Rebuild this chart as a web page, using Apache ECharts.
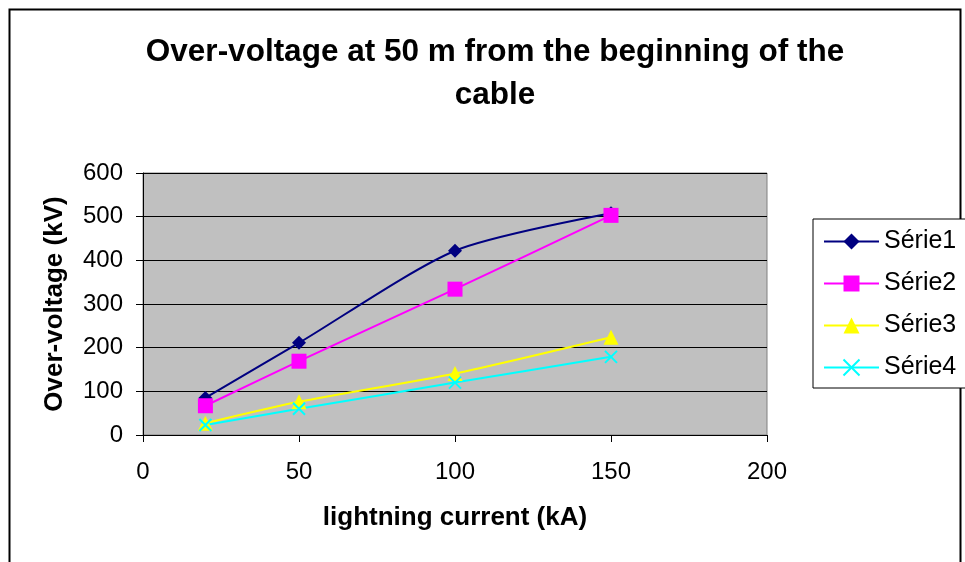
<!DOCTYPE html>
<html><head><meta charset="utf-8">
<script src="https://cdn.jsdelivr.net/npm/echarts@6/dist/echarts.min.js"></script>
<style>html,body{margin:0;padding:0;background:#fff}#c{width:965px;height:562px}</style>
</head><body><div id="c"></div>
<script>
const xValues = [20, 50, 100, 150];
const serie1 = [85, 211, 422, 508];
const serie2 = [67, 169, 334, 503];
const serie3 = [27, 76, 141, 224];
const serie4 = [23, 60, 120, 179];
const seriesNames = ['Série1', 'Série2', 'Série3', 'Série4'];
const titleText = 'Over-voltage at 50 m from the beginning of the\ncable';
const xName = 'lightning current (kA)';
const yName = 'Over-voltage (kV)';

const font = 'Liberation Sans, Arial, sans-serif';
const chart = echarts.init(document.getElementById('c'));
function pts(v){ return xValues.map((x,i)=>[x, v[i]]); }
const colors = ['#000080', '#FF00FF', '#FFFF00', '#00FFFF'];
const symbols = ['diamond', 'rect', 'triangle', 'path://M0,0L10,10M10,0L0,10'];
const sizes = [14, 15, 15, 12];
const data = [serie1, serie2, serie3, serie4];
chart.setOption({
  animation: false,
  textStyle: {fontFamily: font},
  graphic: [{type:'rect', shape:{x:9.5, y:9.5, width:951, height:570}, style:{fill:'none', stroke:'#000', lineWidth:2}, z:-10}],
  title: {text: titleText, left: 490, top: 26, textAlign: 'center',
    textStyle: {fontFamily: font, fontSize: 31.5, fontWeight: 'bold', color: '#000', lineHeight: 43}},
  legend: {orient: 'vertical', left: 813, top: 219, width: 151,
    padding: [10, 12, 8, 10], itemGap: 17, itemWidth: 55, itemHeight: 20,
    borderColor: '#000', borderWidth: 1, backgroundColor: '#fff',
    textStyle: {fontFamily: font, fontSize: 25, color: '#000'},
    data: seriesNames},
  grid: {left: 143, top: 173, width: 624, height: 262, show: true, backgroundColor: '#C0C0C0', borderColor: '#808080', borderWidth: 1},
  xAxis: {type: 'value', min: 0, max: 200, interval: 50,
    name: xName, nameLocation: 'middle', nameGap: 70,
    nameTextStyle: {fontFamily: font, fontSize: 26, fontWeight: 'bold', color: '#000'},
    axisLine: {onZero: false, lineStyle: {color: '#000'}},
    axisTick: {show: true, length: 7, lineStyle: {color: '#000'}},
    axisLabel: {fontFamily: font, fontSize: 24, color: '#000', margin: 25},
    splitLine: {show: false}},
  yAxis: {type: 'value', min: 0, max: 600, interval: 100,
    name: yName, nameLocation: 'middle', nameGap: 75, nameRotate: 90,
    nameTextStyle: {fontFamily: font, fontSize: 26, fontWeight: 'bold', color: '#000'},
    axisLine: {show: true, lineStyle: {color: '#000'}},
    axisTick: {show: true, length: 7, lineStyle: {color: '#000'}},
    axisLabel: {fontFamily: font, fontSize: 24, color: '#000', margin: 20},
    splitLine: {show: true, lineStyle: {color: '#000', width: 1}}},
  series: data.map((d,i)=>({
    name: seriesNames[i], type: 'line', data: pts(d), smooth: 0.25,
    symbol: symbols[i], symbolSize: sizes[i],
    lineStyle: {color: colors[i], width: 2},
    itemStyle: {color: colors[i], borderColor: colors[i], borderWidth: i===3 ? 2 : 0}
  }))
});
</script></body></html>
